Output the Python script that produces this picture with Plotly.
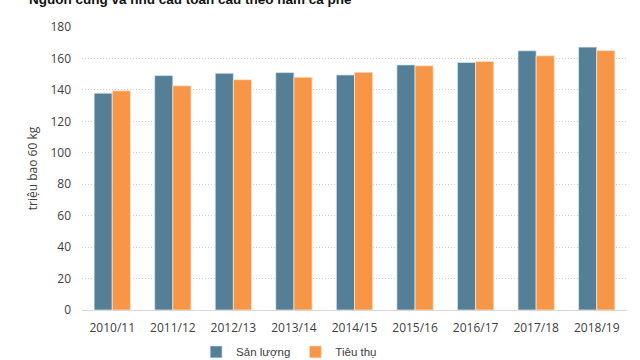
import plotly.graph_objects as go

categories = ["2010/11", "2011/12", "2012/13", "2013/14", "2014/15",
              "2015/16", "2016/17", "2017/18", "2018/19"]
san_luong = [137.9, 149.1, 150.6, 151.0, 149.5, 155.9, 157.4, 164.9, 167.2]
tieu_thu = [139.4, 142.6, 146.5, 148.0, 151.2, 155.3, 158.1, 161.7, 165.0]
y_ticks = [0, 20, 40, 60, 80, 100, 120, 140, 160, 180]

fig = go.Figure()
fig.add_trace(go.Bar(x=categories, y=san_luong, name="Sản lượng",
                     marker=dict(color="#557F96", line=dict(color="rgba(220,235,245,0.9)", width=0.8))))
fig.add_trace(go.Bar(x=categories, y=tieu_thu, name="Tiêu thụ",
                     marker=dict(color="#F79646", line=dict(color="rgba(255,230,210,0.9)", width=0.8))))

fig.update_layout(
    width=640, height=360,
    margin=dict(l=82, r=13, t=27, b=50, autoexpand=False),
    paper_bgcolor="white", plot_bgcolor="white",
    barmode="group", bargap=0.4, bargroupgap=0,
    font=dict(family="Open Sans", size=11, color="#404040"),
    showlegend=True,
    legend=dict(orientation="h", x=0.38, xanchor="center", y=-0.148, yanchor="middle",
                font=dict(family="Liberation Sans", size=11.5, color="#404040"),
                itemwidth=30, traceorder="normal"),
    annotations=[dict(text="<b>Nguồn cung và nhu cầu toàn cầu theo năm cà phê</b>",
                      xref="paper", yref="paper", x=-0.1007, y=1, xanchor="left", yanchor="bottom",
                      yshift=18, showarrow=False,
                      font=dict(family="Liberation Sans", size=13.5, color="#111111"))],
)
fig.update_xaxes(showgrid=False, showline=True, linecolor="#D9D9D9", linewidth=1,
                 ticks="", automargin=False, ticklabelstandoff=7,
                 tickfont=dict(size=12, color="#404040"))
fig.update_yaxes(range=[0, 180], tickvals=y_ticks, showgrid=True, gridcolor="#D0D0D0",
                 griddash="1px,2px", gridwidth=1, zeroline=False, showline=False, automargin=False,
                 ticklabelstandoff=10, tickfont=dict(size=12, color="#404040"),
                 title=dict(text="triệu bao 60 kg", standoff=10, font=dict(size=12, color="#404040")))

fig.write_html("out.html", config={"displayModeBar": False},
               post_script="document.body.style.margin='0';")
